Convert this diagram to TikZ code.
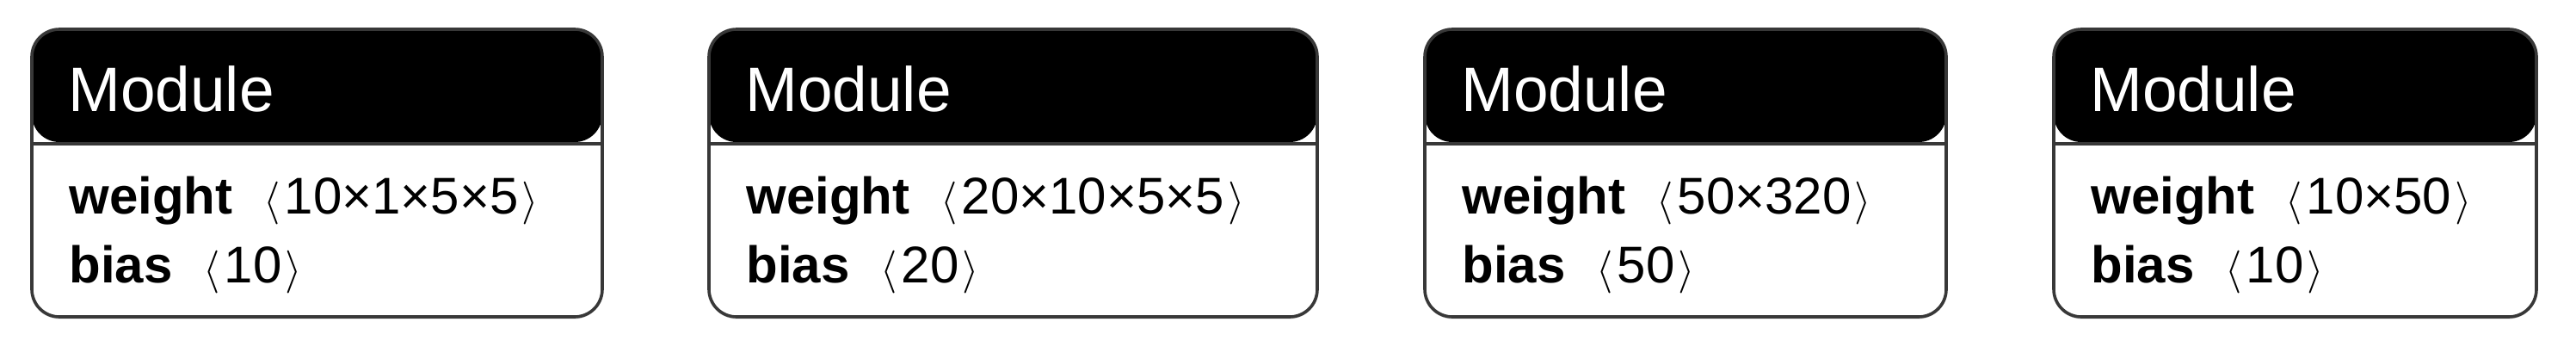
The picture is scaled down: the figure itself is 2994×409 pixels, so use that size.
\documentclass[tikz,border=0pt]{standalone}
\usepackage{fontspec}
\setmainfont{Liberation Sans}
\usetikzlibrary{shadows}
\definecolor{strokegray}{HTML}{383838}
\begin{document}
\begin{tikzpicture}[x=0.5pt,y=0.5pt,
  modbox/.style={draw=strokegray, line width=1.8pt, fill=white, rounded corners=16pt,
    rectangle, inner sep=0pt, outer sep=0pt, minimum height=167pt, anchor=north west,
    drop shadow={shadow xshift=0pt, shadow yshift=-1.2pt, opacity=0.18, fill=black},
    path picture={
      \fill[black] (path picture bounding box.north west) rectangle ([yshift=-65.5pt]path picture bounding box.north east);
      \draw[strokegray, line width=1.6pt] ([yshift=-66.5pt]path picture bounding box.north west) -- ([yshift=-66.5pt]path picture bounding box.north east);
    }},
  headtxt/.style={anchor=base west, inner sep=0pt, text=white, font=\fontsize{36.5pt}{44pt}\selectfont},
  bodytxt/.style={anchor=base west, inner sep=0pt, text=black, font=\fontsize{30pt}{36pt}\selectfont}
]
\newcommand{\dimtxt}[1]{\hspace{18pt}$\langle$\hspace{2.5pt}#1\hspace{2pt}$\rangle$}
\useasboundingbox (0,0) rectangle (2994,409);
\fill[white] (0,0) rectangle (2994,409);

\node[modbox, minimum width=331.5pt] (m1) at (37,375) {};
\node[modbox, minimum width=353.5pt] (m2) at (824,375) {};
\node[modbox, minimum width=303pt] (m3) at (1656,375) {};
\node[modbox, minimum width=280.5pt] (m4) at (2387,375) {};

\node[headtxt] (h1) at (79,280) {Module};
\node[bodytxt] (w1) at (80,161) {\textbf{weight}\dimtxt{10×1×5×5}};
\node[bodytxt] (b1) at (80,81) {\textbf{bias}\dimtxt{10}};

\node[headtxt] (h2) at (866,280) {Module};
\node[bodytxt] (w2) at (867,161) {\textbf{weight}\dimtxt{20×10×5×5}};
\node[bodytxt] (b2) at (867,81) {\textbf{bias}\dimtxt{20}};

\node[headtxt] (h3) at (1698,280) {Module};
\node[bodytxt] (w3) at (1699,161) {\textbf{weight}\dimtxt{50×320}};
\node[bodytxt] (b3) at (1699,81) {\textbf{bias}\dimtxt{50}};

\node[headtxt] (h4) at (2429,280) {Module};
\node[bodytxt] (w4) at (2430,161) {\textbf{weight}\dimtxt{10×50}};
\node[bodytxt] (b4) at (2430,81) {\textbf{bias}\dimtxt{10}};
\end{tikzpicture}
\end{document}
